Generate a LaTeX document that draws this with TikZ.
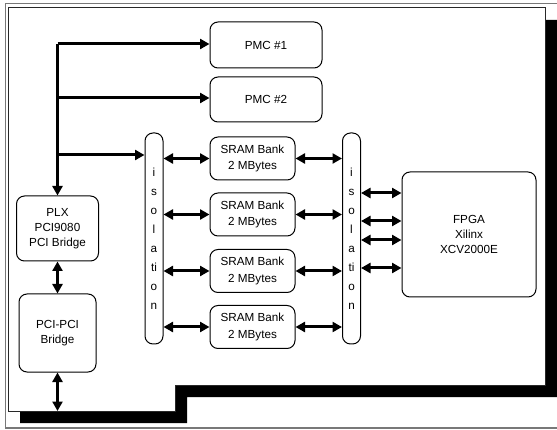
\documentclass[tikz,border=0pt]{standalone}
\usepackage{fontspec}
\setmainfont{Liberation Sans}
\usepackage{xcolor}
\definecolor{frame}{RGB}{120,120,120}
\definecolor{edge}{RGB}{40,40,40}
\usepackage{tikz}
\usetikzlibrary{arrows.meta,calc}

\begin{document}
\begin{tikzpicture}[
  x=1pt, y=-1pt,
  box/.style={draw=black,line width=1pt,rounded corners=8pt,fill=white,
              inner sep=0pt,align=center,
              font=\fontsize{11.7}{15}\selectfont},
  bar/.style={box,minimum width=18pt,minimum height=211pt,
              font=\fontsize{11.7}{19}\selectfont},
  arr/.style={line width=3pt,-{Triangle[length=9.5pt,width=10pt]}},
  dbl/.style={line width=3pt,{Triangle[length=9.5pt,width=10pt]}-{Triangle[length=9.5pt,width=10pt]}},
]
  \useasboundingbox (0,0) rectangle (557,430);
  \draw[frame,line width=1.5pt] (5.5,3.5) rectangle (562,428);
  %% board with its shadow
  \fill[black] (20,20) -- (557,20) -- (557,397) -- (187,397) -- (187,423) -- (20,423) -- cycle;
  \filldraw[fill=white,draw=edge,line width=1pt]
    (8,8) -- (545,8) -- (545,385) -- (175,385) -- (175,411) -- (8,411) -- cycle;

  \node[box,minimum width=112pt,minimum height=46pt] (pmc1) at (266,45) {PMC \#1};
  \node[box,minimum width=112pt,minimum height=45pt] (pmc2) at (266,99.5) {PMC \#2};
  \foreach \i/\y in {1/158.5,2/214.5,3/271,4/327}
    \node[box,minimum width=85pt,minimum height=43pt,
          font=\fontsize{11.7}{16.5}\selectfont] (sram\i) at (252.5,\y) {SRAM Bank\\2 MBytes};
  \node[bar] (iso1) at (154,238.5) {i\\s\\o\\l\\a\\ti\\o\\n};
  \node[bar] (iso2) at (351.5,238.5) {i\\s\\o\\l\\a\\ti\\o\\n};
  \node[box,minimum width=134pt,minimum height=125pt] (fpga) at (469,234.5) {FPGA\\Xilinx\\XCV2000E};
  \node[box,minimum width=82pt,minimum height=65pt] (plx) at (57.5,228.5) {PLX\\PCI9080\\PCI Bridge};
  \node[box,minimum width=77pt,minimum height=78pt] (pcipci) at (57.5,333) {PCI-PCI\\Bridge};

  \coordinate (tap1) at (57.5,44);
  \coordinate (tap2) at (57.5,98);
  \coordinate (tap3) at (57.5,155);
  \coordinate (bottom) at (57.5,411);

  %% local bus
  \draw[arr] (tap1) -- (plx.north);
  \draw[arr] (tap1) -- (tap1 -| pmc1.west);
  \draw[arr] (tap2) -- (tap2 -| pmc2.west);
  \draw[arr] (tap3) -- (tap3 -| iso1.west);
  \draw[dbl] (plx.south) -- (pcipci.north);
  \draw[dbl] (pcipci.south) -- (bottom);

  \foreach \i in {1,...,4} {
    \draw[dbl] (sram\i.west -| iso1.east) -- (sram\i.west);
    \draw[dbl] (sram\i.east) -- (sram\i.east -| iso2.west);
  }
  \foreach \y in {193,221,240,268}
    \draw[dbl] (iso2.east |- 0,\y) -- (fpga.west |- 0,\y);
\end{tikzpicture}
\end{document}
